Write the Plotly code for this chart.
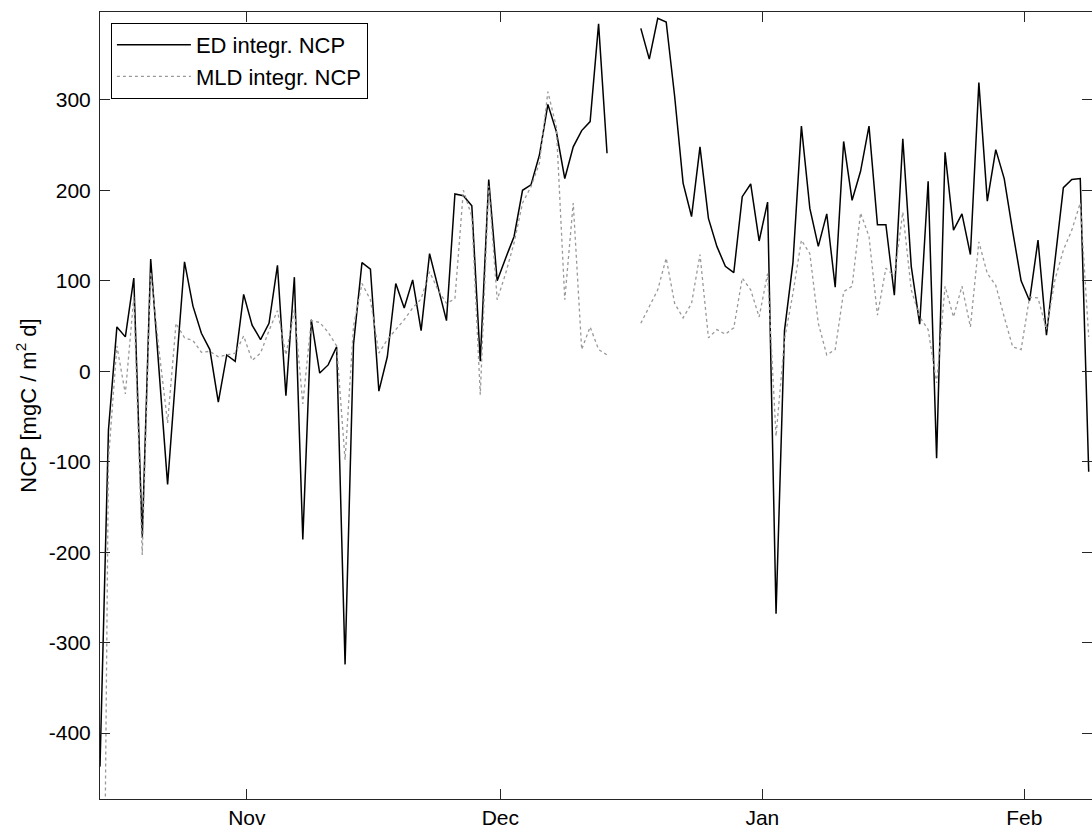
import pandas as pd
import plotly.graph_objects as go

# ---- data (daily values) ----
start_date = "2007-10-14 15:00"
n_days = 118

ed_ncp = [
    -437, -65, 49, 38, 103, -184, 124, 0, -125, 0,
    121, 72, 42, 24, -34, 18, 11, 85, 51, 35,
    53, 117, -27, 104, -186, 57, -2, 7, 27, -324,
    30, 120, 113, -22, 16, 97, 70, 101, 45, 130,
    93, 56, 196, 194, 183, 11, 212, 100, 125, 149,
    200, 206, 239, 295, 265, 213, 248, 266, 276, 384,
    241, None, None, None, 379, 345, 390, 386, 304, 208,
    171, 248, 169, 138, 116, 109, 193, 207, 144, 187,
    -268, 45, 120, 271, 180, 138, 174, 93, 254, 189,
    221, 271, 162, 162, 84, 257, 116, 52, 210, -96,
    242, 156, 174, 129, 319, 188, 245, 213, 155, 100,
    78, 145, 40, 120, 203, 212, 213, -111,
]

mld_ncp = [
    -1120, -98, 28, -25, 82, -203, 110, 22, -57, 53,
    37, 34, 21, 22, 16, 18, 20, 39, 12, 20,
    45, 67, 18, 68, -36, 56, 54, 43, 28, -98,
    50, 97, 79, 20, 35, 46, 57, 70, 80, 110,
    90, 75, 80, 200, 171, -26, 205, 79, 108, 142,
    186, 204, 230, 309, 270, 79, 186, 24, 49, 24,
    18, None, None, None, 53, 71, 90, 125, 75, 59,
    75, 129, 37, 46, 41, 48, 103, 90, 60, 108,
    -72, 35, 86, 145, 130, 53, 18, 24, 88, 94,
    175, 149, 62, 114, 105, 176, 90, 60, 46, -13,
    94, 60, 94, 49, 143, 108, 95, 60, 27, 24,
    82, 81, 46, 101, 134, 156, 186, 38,
]

month_ticks = ["2007-11-01", "2007-12-01", "2008-01-01", "2008-02-01"]
month_labels = ["Nov", "Dec", "Jan", "Feb"]
y_ticks = [-400, -300, -200, -100, 0, 100, 200, 300]
y_labels = ["-400", "-300", "-200", "-100", "0", "100", "200", "300"]

dates = pd.date_range(start_date, periods=n_days, freq="D")

FONT = "Liberation Sans, Arial, Helvetica, sans-serif"
AXC = "#262626"

fig = go.Figure()
fig.add_trace(go.Scatter(
    x=dates, y=ed_ncp, mode="lines", name="ED integr. NCP",
    line=dict(color="#000000", width=1.5),
))
fig.add_trace(go.Scatter(
    x=dates, y=mld_ncp, mode="lines", name="MLD integr. NCP",
    line=dict(color="#999999", width=1.3, dash="dot"),
))

fig.update_layout(
    width=1092, height=829,
    margin=dict(l=100, r=0, t=12, b=30),
    paper_bgcolor="white", plot_bgcolor="white",
    font=dict(family=FONT, size=21, color="#000000"),
    showlegend=True,
    legend=dict(
        x=0.011, y=0.986, xanchor="left", yanchor="top",
        bgcolor="white", bordercolor="#000000", borderwidth=1,
        font=dict(family=FONT, size=22, color="#000000"),
        itemwidth=74, tracegroupgap=0,
    ),
)

fig.update_xaxes(
    type="date",
    range=["2007-10-14 15:00", "2008-02-09 00:20"],
    tickvals=month_ticks, ticktext=month_labels,
    ticks="inside", ticklen=10, tickwidth=1, tickcolor=AXC,
    showline=True, linecolor=AXC, linewidth=1, mirror="ticks",
    showgrid=False, zeroline=False,
    tickfont=dict(family=FONT, size=21),
)
fig.update_yaxes(
    range=[-472.8, 397.1],
    tickvals=y_ticks, ticktext=y_labels,
    ticks="inside", ticklen=10, tickwidth=1, tickcolor=AXC,
    showline=True, linecolor=AXC, linewidth=1, mirror="ticks",
    showgrid=False, zeroline=False,
    tickfont=dict(family=FONT, size=21),
    ticklabelstandoff=4,
    title=dict(text="NCP [mgC / m<sup>2</sup> d]", font=dict(family=FONT, size=22), standoff=6),
)

fig.write_html("out.html")
